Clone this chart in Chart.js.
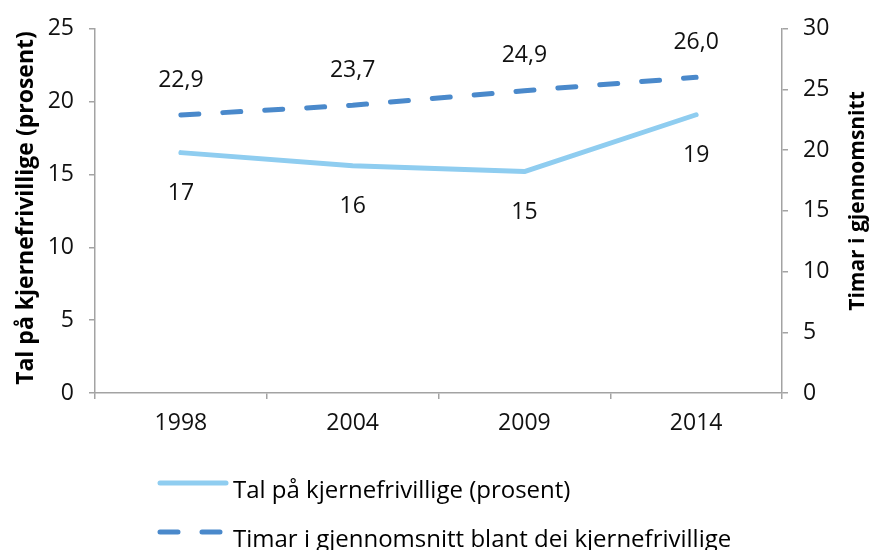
<!DOCTYPE html>
<html>
<head>
<meta charset="utf-8">
<script src="https://cdn.jsdelivr.net/npm/chart.js@4.4.1/dist/chart.umd.min.js"></script>
<style>
  html, body { margin: 0; padding: 0; background: #fff; }
  canvas { display: block; }
</style>
</head>
<body>
<canvas id="chart" width="886" height="550"></canvas>
<script>
// data
const years = ['1998', '2004', '2009', '2014'];
const shareCore = [16.5, 15.6, 15.2, 19.1];   // left axis, prosent
const hoursCore = [22.9, 23.7, 24.9, 26.0];   // right axis, timar
const seriesNames = [
    'Tal på kjernefrivillige (prosent)',
    'Timar i gjennomsnitt blant dei kjernefrivillige'
];
const leftTitle = 'Tal på kjernefrivillige (prosent)';
const rightTitle = 'Timar i gjennomsnitt';

const FONT = '"Open Sans", Lato, sans-serif';
const TXT = 23;
const AXIS_GREY = '#a3a3a3';
const LIGHT = '#8fcdf0';
const DARK = '#4a89cb';

// value labels over / under each point
const valueLabels = {
    id: 'valueLabels',
    afterDatasetsDraw(chart) {
        const { ctx } = chart;
        ctx.save();
        ctx.font = `${TXT}px ${FONT}`;
        ctx.fillStyle = '#111';
        ctx.textAlign = 'center';
        ctx.textBaseline = 'middle';
        chart.data.datasets.forEach((ds, i) => {
            const meta = chart.getDatasetMeta(i);
            meta.data.forEach((pt, j) => {
                const v = ds.data[j];
                if (i === 0) {
                    ctx.fillText(String(Math.round(v)), pt.x, pt.y + 41);
                } else {
                    ctx.fillText(v.toFixed(1).replace('.', ','), pt.x, pt.y - 35);
                }
            });
        });
        ctx.restore();
    }
};

// axis titles (both read bottom-to-top) and the stacked legend
const extras = {
    id: 'extras',
    afterDraw(chart) {
        const { ctx } = chart;
        ctx.save();
        ctx.fillStyle = '#000';
        ctx.textAlign = 'center';
        ctx.textBaseline = 'middle';

        ctx.save();
        ctx.font = `bold 23px ${FONT}`;
        ctx.translate(26, 208);
        ctx.rotate(-Math.PI / 2);
        ctx.fillText(leftTitle, 0, 0);
        ctx.restore();

        ctx.save();
        ctx.font = `bold 21px ${FONT}`;
        ctx.translate(858, 201);
        ctx.rotate(-Math.PI / 2);
        ctx.fillText(rightTitle, 0, 0);
        ctx.restore();

        // legend
        const rows = [483, 532];
        ctx.font = `24px ${FONT}`;
        ctx.textAlign = 'left';
        ctx.textBaseline = 'alphabetic';
        chart.data.datasets.forEach((ds, i) => {
            const y = rows[i];
            ctx.save();
            ctx.strokeStyle = ds.borderColor;
            ctx.lineWidth = ds.borderWidth;
            ctx.lineCap = 'round';
            ctx.setLineDash(ds.borderDash || []);
            ctx.beginPath();
            ctx.moveTo(160, y);
            ctx.lineTo(226, y);
            ctx.stroke();
            ctx.restore();
            ctx.fillStyle = '#000';
            ctx.fillText(seriesNames[i], 233, y + 15);
        });
        ctx.restore();
    }
};

new Chart(document.getElementById('chart'), {
    type: 'line',
    plugins: [valueLabels, extras],
    data: {
        labels: years,
        datasets: [
            {
                label: seriesNames[0],
                data: shareCore,
                yAxisID: 'y',
                borderColor: LIGHT,
                borderWidth: 5,
                borderCapStyle: 'round',
                borderJoinStyle: 'round',
                pointRadius: 0,
                tension: 0
            },
            {
                label: seriesNames[1],
                data: hoursCore,
                yAxisID: 'y1',
                borderColor: DARK,
                borderWidth: 5,
                borderDash: [18, 24],
                borderCapStyle: 'round',
                borderJoinStyle: 'round',
                pointRadius: 0,
                tension: 0
            }
        ]
    },
    options: {
        responsive: false,
        animation: false,
        layout: { padding: { top: 23, left: 0, right: 0, bottom: 0 } },
        plugins: {
            legend: { display: false },
            tooltip: { enabled: false }
        },
        scales: {
            x: {
                offset: true,
                grid: { offset: true, drawOnChartArea: false, color: AXIS_GREY, lineWidth: 1.5, tickLength: 6 },
                border: { color: AXIS_GREY, width: 1.5 },
                ticks: { color: '#111', font: { family: FONT, size: TXT }, padding: 11 },
                afterFit(scale) { scale.height = 157; }
            },
            y: {
                position: 'left',
                min: 0,
                max: 25,
                grid: { drawOnChartArea: false, color: AXIS_GREY, lineWidth: 1.5, tickLength: 6 },
                border: { color: AXIS_GREY, width: 1.5 },
                ticks: { stepSize: 5, color: '#111', font: { family: FONT, size: TXT }, padding: 15 },
                afterFit(scale) { scale.width = 95; }
            },
            y1: {
                position: 'right',
                min: 0,
                max: 30,
                grid: { drawOnChartArea: false, color: AXIS_GREY, lineWidth: 1.5, tickLength: 6 },
                border: { color: AXIS_GREY, width: 1.5 },
                ticks: { stepSize: 5, color: '#111', font: { family: FONT, size: TXT }, padding: 15 },
                afterFit(scale) { scale.width = 104; }
            }
        }
    }
});
</script>
</body>
</html>
